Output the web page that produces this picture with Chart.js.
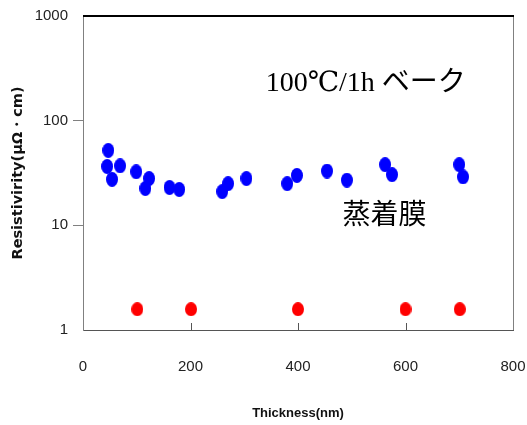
<!DOCTYPE html>
<html lang="ja">
    <head>
        <meta charset="UTF-8" />
        <title>Resistivity vs Thickness</title>
        <script src="https://cdn.jsdelivr.net/npm/chart.js"></script>
        <style>
            body {
                margin: 0;
                background: #fff;
            }
            .chart-container {
                width: 527px;
                height: 425px;
            }
        </style>
    </head>
    <body>
        <div class="chart-container">
            <canvas id="resChart"></canvas>
        </div>

        <script>
            // baked films (blue)
            const bakedThickness = [47, 45, 54, 69, 99, 123, 116, 161, 179, 259, 270, 304, 380, 398, 454, 491, 562, 575, 700, 707];
            const bakedResistivity = [52, 36.5, 27.5, 37, 32.5, 28, 22.5, 23, 22, 21, 25, 28, 25, 30, 33, 27, 38, 30.5, 38, 29];

            // as-deposited films (red)
            const depoThickness = [101, 201, 400, 600, 701];
            const depoResistivity = [1.58, 1.58, 1.58, 1.58, 1.58];

            const yTickValues = [1, 10, 100, 1000];
            const xTickValues = [0, 200, 400, 600, 800];

            const tickFont = { family: "'Liberation Sans', Arial, sans-serif", size: 15 };
            const noteFont = "28px 'Liberation Serif', 'DejaVu Serif', 'Noto Sans CJK JP', serif";

            // the markers in the original are slightly tall ovals
            function makeDot(color, w, h) {
                const c = document.createElement("canvas");
                c.width = w;
                c.height = h;
                const ctx = c.getContext("2d");
                ctx.fillStyle = color;
                ctx.beginPath();
                ctx.ellipse(w / 2, h / 2, w / 2, h / 2, 0, 0, Math.PI * 2);
                ctx.fill();
                return c;
            }

            const frame = {
                id: "frame",
                afterDatasetsDraw(chart) {
                    const { ctx, chartArea: a, scales } = chart;
                    ctx.save();
                    // right edge
                    ctx.strokeStyle = "#808080";
                    ctx.lineWidth = 1;
                    ctx.beginPath();
                    ctx.moveTo(a.right + 0.5, a.top);
                    ctx.lineTo(a.right + 0.5, a.bottom);
                    ctx.stroke();
                    // inner ticks on the x axis
                    ctx.strokeStyle = "#555";
                    xTickValues.slice(1, -1).forEach((v) => {
                        const px = Math.round(scales.x.getPixelForValue(v)) + 0.5;
                        ctx.beginPath();
                        ctx.moveTo(px, a.bottom);
                        ctx.lineTo(px, a.bottom - 7);
                        ctx.stroke();
                    });
                    // heavy top edge
                    ctx.strokeStyle = "#000";
                    ctx.lineWidth = 2;
                    ctx.beginPath();
                    ctx.moveTo(a.left, a.top);
                    ctx.lineTo(a.right + 1, a.top);
                    ctx.stroke();

                    // annotations
                    ctx.fillStyle = "#000";
                    ctx.font = noteFont;
                    ctx.textAlign = "center";
                    ctx.textBaseline = "middle";
                    ctx.fillText("100℃/1h ベーク", scales.x.getPixelForValue(526), scales.y.getPixelForValue(224));
                    ctx.fillText("蒸着膜", scales.x.getPixelForValue(561), scales.y.getPixelForValue(12));
                    ctx.restore();
                },
            };

            function noPad(scale) {
                scale.paddingLeft = 0;
                scale.paddingRight = 0;
                scale.paddingTop = 0;
                scale.paddingBottom = 0;
            }

            new Chart(document.getElementById("resChart"), {
                type: "scatter",
                data: {
                    datasets: [
                        {
                            label: "100℃/1h ベーク",
                            data: bakedThickness.map((x, i) => ({ x: x, y: bakedResistivity[i] })),
                            pointStyle: makeDot("#0000ff", 12, 15),
                            backgroundColor: "#0000ff",
                        },
                        {
                            label: "蒸着膜",
                            data: depoThickness.map((x, i) => ({ x: x, y: depoResistivity[i] })),
                            pointStyle: makeDot("#ff0000", 12, 14),
                            backgroundColor: "#ff0000",
                        },
                    ],
                },
                options: {
                    responsive: true,
                    maintainAspectRatio: false,
                    animation: false,
                    layout: {
                        padding: { top: 16, right: 14, left: 0, bottom: 0 },
                    },
                    plugins: {
                        legend: { display: false },
                        tooltip: { enabled: false },
                    },
                    scales: {
                        x: {
                            type: "linear",
                            min: 0,
                            max: 800,
                            afterBuildTicks: (scale) => {
                                scale.ticks = xTickValues.map((v) => ({ value: v }));
                            },
                            afterFit: (scale) => {
                                scale.height = 95;
                                noPad(scale);
                            },
                            grid: { drawOnChartArea: false, drawTicks: false },
                            border: { color: "#555" },
                            ticks: {
                                font: tickFont,
                                color: "#222",
                                padding: 28,
                                maxRotation: 0,
                                callback: (v) => String(v),
                            },
                            title: {
                                display: true,
                                text: "Thickness(nm)",
                                color: "#111",
                                font: { family: "'Liberation Sans', Arial, sans-serif", size: 13, weight: "bold" },
                                padding: { top: 0, bottom: 4 },
                            },
                        },
                        y: {
                            type: "logarithmic",
                            min: 1,
                            max: 1000,
                            afterBuildTicks: (scale) => {
                                scale.ticks = yTickValues.map((v) => ({ value: v }));
                            },
                            afterFit: (scale) => {
                                scale.width = 83;
                                noPad(scale);
                            },
                            grid: {
                                drawOnChartArea: false,
                                drawTicks: true,
                                tickLength: 10,
                                color: (c) => (c.tick && (c.tick.value === 10 || c.tick.value === 100) ? "#808080" : "rgba(0,0,0,0)"),
                            },
                            border: { color: "#808080" },
                            ticks: {
                                font: tickFont,
                                color: "#222",
                                padding: 5,
                                callback: (v) => String(v),
                            },
                            title: {
                                display: true,
                                text: "Resistivirity(μΩ・cm)",
                                color: "#111",
                                font: { family: "'DejaVu Sans', sans-serif", size: 14.5, weight: "bold" },
                                padding: { top: 10, bottom: 0 },
                            },
                        },
                    },
                },
                plugins: [frame],
            });
        </script>
    </body>
</html>
